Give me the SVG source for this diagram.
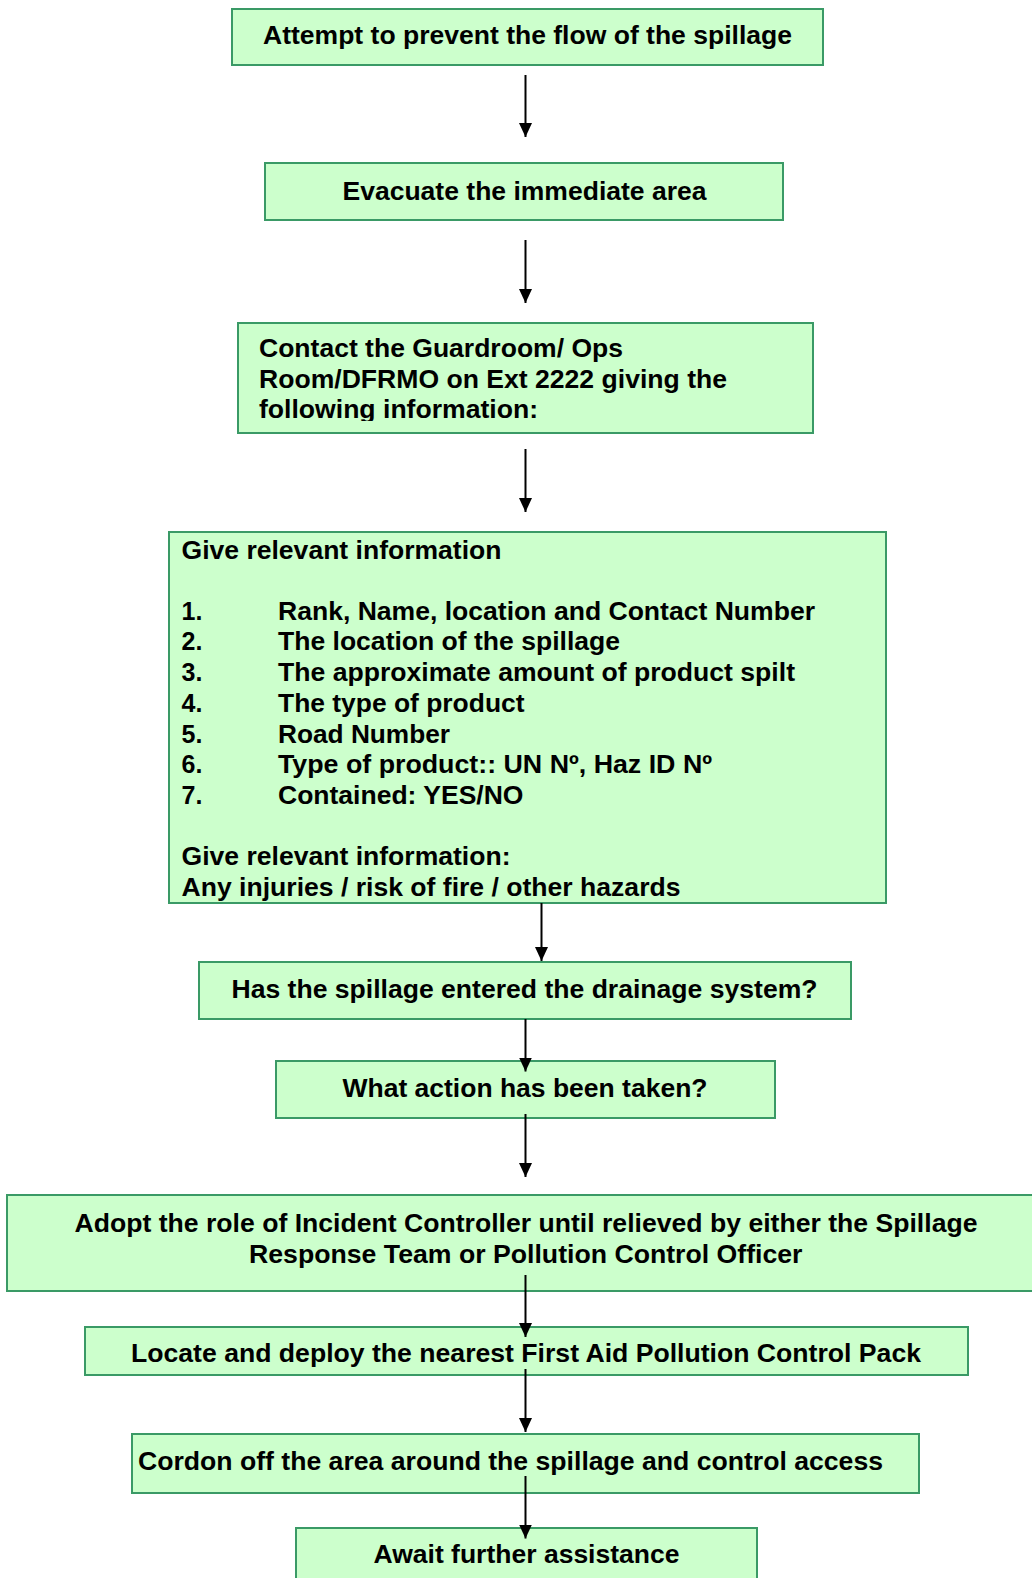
<svg xmlns="http://www.w3.org/2000/svg" width="1032" height="1578" viewBox="0 0 1032 1578">
  <style>
    .box { fill: #CCFFCC; stroke: #3A9A66; stroke-width: 2; }
    .t { font-family: "Liberation Sans", Arial, sans-serif; font-weight: bold; font-size: 25px; fill: #000; }
    .edge { stroke: #000; stroke-width: 2; fill: none; marker-end: url(#arrow); }
  </style>
  <defs>
    <marker id="arrow" markerUnits="userSpaceOnUse" markerWidth="14" markerHeight="13" viewBox="0 0 14 13" refX="14" refY="6.5" orient="auto">
      <path d="M0,0 L14,6.5 L0,13 Z" fill="#000"/>
    </marker>
    <clipPath id="clip-contact"><rect x="238" y="323" width="575" height="98"/></clipPath>
    <clipPath id="clip-info"><rect x="169" y="532" width="717" height="371"/></clipPath>
  </defs>
  <rect width="1032" height="1578" fill="#FFFFFF"/>

  <g id="prevent-flow">
    <rect class="box" x="232" y="9" width="591" height="56"/>
    <text class="t" x="263" y="43.5" textLength="529" lengthAdjust="spacingAndGlyphs">Attempt to prevent the flow of the spillage</text>
  </g>

  <g id="evacuate">
    <rect class="box" x="265" y="163" width="518" height="57"/>
    <text class="t" x="342.5" y="199.5" textLength="364" lengthAdjust="spacingAndGlyphs">Evacuate the immediate area</text>
  </g>

  <g id="contact-guardroom">
    <rect class="box" x="238" y="323" width="575" height="110"/>
    <g clip-path="url(#clip-contact)">
      <text class="t" x="259" y="357" textLength="364" lengthAdjust="spacingAndGlyphs">Contact the Guardroom/ Ops</text>
      <text class="t" x="259" y="387.5" textLength="468" lengthAdjust="spacingAndGlyphs">Room/DFRMO on Ext 2222 giving the</text>
      <text class="t" x="259" y="418" textLength="279" lengthAdjust="spacingAndGlyphs">following information:</text>
    </g>
  </g>

  <g id="relevant-information">
    <rect class="box" x="169" y="532" width="717" height="371"/>
    <g clip-path="url(#clip-info)">
      <text class="t" x="181.5" y="558.5" textLength="320" lengthAdjust="spacingAndGlyphs">Give relevant information</text>
      <text class="t" x="181.5" y="619.7">1.</text>
      <text class="t" x="278" y="619.7" textLength="537" lengthAdjust="spacingAndGlyphs">Rank, Name, location and Contact Number</text>
      <text class="t" x="181.5" y="650.4">2.</text>
      <text class="t" x="278" y="650.4" textLength="342" lengthAdjust="spacingAndGlyphs">The location of the spillage</text>
      <text class="t" x="181.5" y="681.1">3.</text>
      <text class="t" x="278" y="681.1" textLength="517" lengthAdjust="spacingAndGlyphs">The approximate amount of product spilt</text>
      <text class="t" x="181.5" y="711.8">4.</text>
      <text class="t" x="278" y="711.8" textLength="246.5" lengthAdjust="spacingAndGlyphs">The type of product</text>
      <text class="t" x="181.5" y="742.5">5.</text>
      <text class="t" x="278" y="742.5" textLength="172" lengthAdjust="spacingAndGlyphs">Road Number</text>
      <text class="t" x="181.5" y="773.2">6.</text>
      <text class="t" x="278" y="773.2" textLength="434" lengthAdjust="spacingAndGlyphs">Type of product:: UN Nº, Haz ID Nº</text>
      <text class="t" x="181.5" y="803.9">7.</text>
      <text class="t" x="278" y="803.9" textLength="245.5" lengthAdjust="spacingAndGlyphs">Contained: YES/NO</text>
      <text class="t" x="181.5" y="865.3" textLength="329" lengthAdjust="spacingAndGlyphs">Give relevant information:</text>
      <text class="t" x="181.5" y="896" textLength="499" lengthAdjust="spacingAndGlyphs">Any injuries / risk of fire / other hazards</text>
    </g>
  </g>

  <g id="drainage-check">
    <rect class="box" x="199" y="962" width="652" height="57"/>
    <text class="t" x="231.5" y="997.7" textLength="586" lengthAdjust="spacingAndGlyphs">Has the spillage entered the drainage system?</text>
  </g>

  <g id="action-taken">
    <rect class="box" x="276" y="1061" width="499" height="57"/>
    <text class="t" x="342.5" y="1097" textLength="365" lengthAdjust="spacingAndGlyphs">What action has been taken?</text>
  </g>

  <g id="incident-controller">
    <rect class="box" x="7" y="1195" width="1040" height="96"/>
    <text class="t" x="74.5" y="1231.5" textLength="903" lengthAdjust="spacingAndGlyphs">Adopt the role of Incident Controller until relieved by either the Spillage</text>
    <text class="t" x="249" y="1263" textLength="553.5" lengthAdjust="spacingAndGlyphs">Response Team or Pollution Control Officer</text>
  </g>

  <g id="deploy-pack">
    <rect class="box" x="85" y="1327" width="883" height="48"/>
    <text class="t" x="131" y="1361.5" textLength="790" lengthAdjust="spacingAndGlyphs">Locate and deploy the nearest First Aid Pollution Control Pack</text>
  </g>

  <g id="cordon-area">
    <rect class="box" x="132" y="1434" width="787" height="59"/>
    <text class="t" x="138" y="1470" textLength="745" lengthAdjust="spacingAndGlyphs">Cordon off the area around the spillage and control access</text>
  </g>

  <g id="await-assistance">
    <rect class="box" x="296" y="1528" width="461" height="60"/>
    <text class="t" x="373.5" y="1563" textLength="306" lengthAdjust="spacingAndGlyphs">Await further assistance</text>
  </g>

  <g id="connectors">
    <line class="edge" x1="525.5" y1="75" x2="525.5" y2="137"/>
    <line class="edge" x1="525.5" y1="240" x2="525.5" y2="303"/>
    <line class="edge" x1="525.5" y1="449" x2="525.5" y2="512"/>
    <line class="edge" x1="541.5" y1="903" x2="541.5" y2="961"/>
    <line class="edge" x1="525.5" y1="1019" x2="525.5" y2="1071.5"/>
    <line class="edge" x1="525.5" y1="1114" x2="525.5" y2="1177"/>
    <line class="edge" x1="525.5" y1="1275" x2="525.5" y2="1337"/>
    <line class="edge" x1="525.5" y1="1369" x2="525.5" y2="1432"/>
    <line class="edge" x1="525.5" y1="1476" x2="525.5" y2="1538.5"/>
  </g>
</svg>
